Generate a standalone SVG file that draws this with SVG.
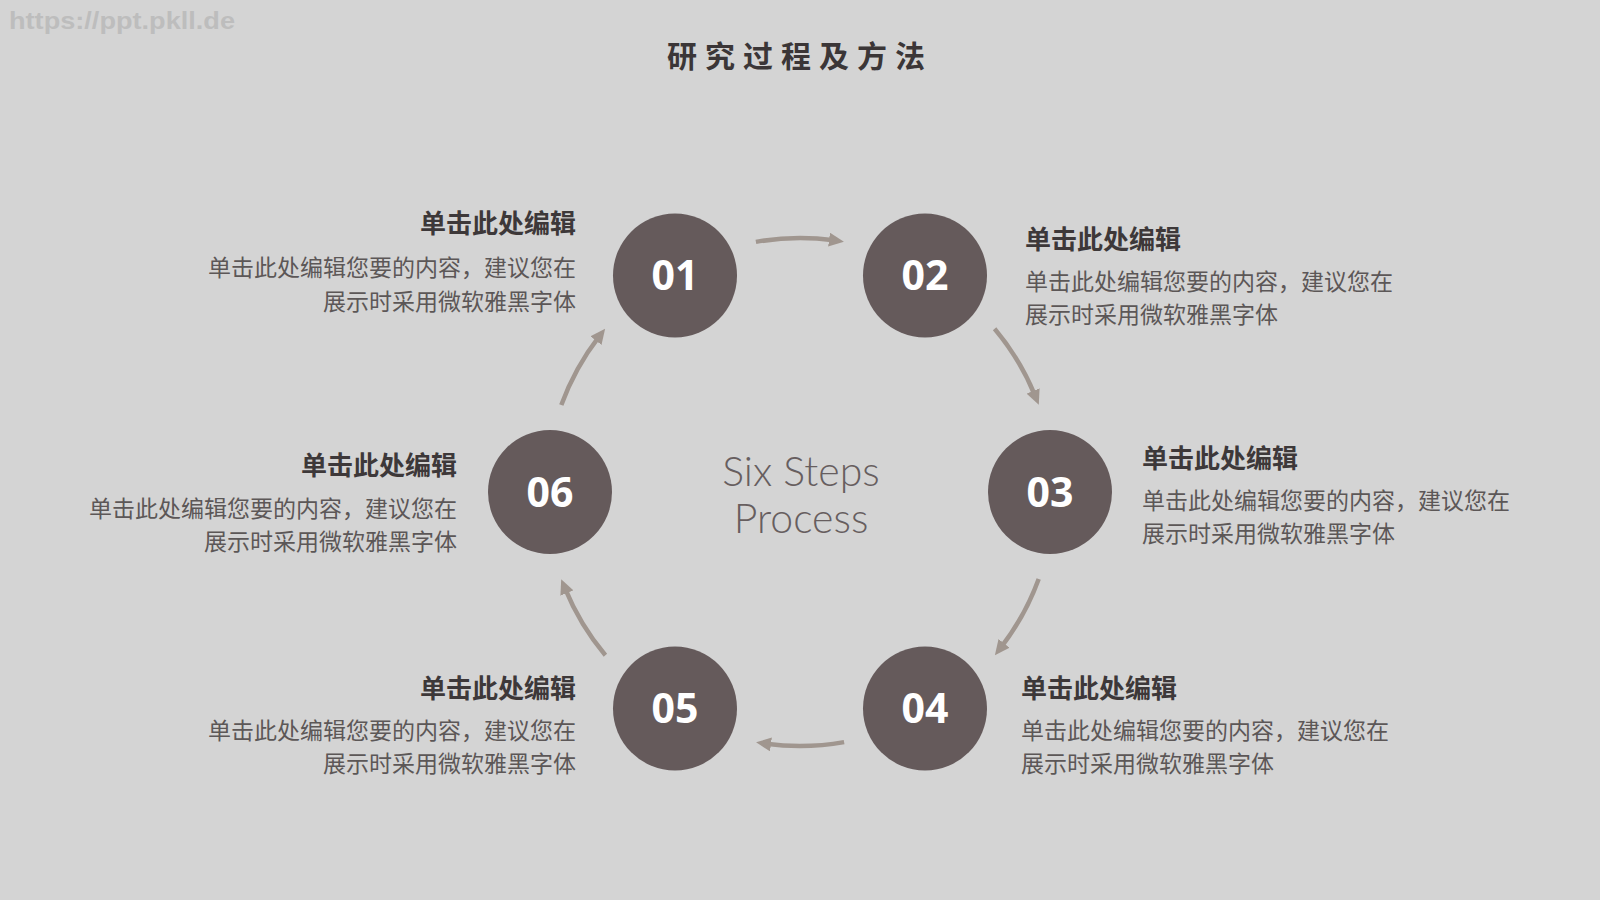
<svg xmlns="http://www.w3.org/2000/svg" width="1600" height="900" viewBox="0 0 1600 900">
<defs>
<style>
.bg{fill:#d4d4d4}
.wm{font-family:"Liberation Sans",Arial,sans-serif;font-size:24px;font-weight:bold;fill:#bdbdbd}
.title{font-family:"Noto Sans CJK SC",sans-serif;font-size:30px;font-weight:bold;fill:#3b3637;letter-spacing:8px}
.node circle{fill:#655a5b}
.num{font-family:"Open Sans","Roboto",sans-serif;font-size:41px;font-weight:bold;fill:#ffffff;text-anchor:middle}
.h{font-family:"Noto Sans CJK SC",sans-serif;font-size:26px;font-weight:bold;fill:#3d3839}
.b{font-family:"Noto Sans CJK SC",sans-serif;font-size:23px;fill:#5c5757}
.r{text-anchor:end}
.center{font-family:"Lato","Open Sans",sans-serif;font-weight:300;font-size:41px;fill:#675e5f;text-anchor:middle}
.conn path{fill:none;stroke:#a0968f;stroke-width:4.5;marker-end:url(#ah)}
</style>
<marker id="ah" markerUnits="userSpaceOnUse" markerWidth="15" markerHeight="14" viewBox="0 0 15 14" refX="5" refY="7" orient="auto">
<path d="M0,0 L15,7 L0,14 z" fill="#a0968f"/>
</marker>
</defs>
<rect class="bg" x="0" y="0" width="1600" height="900"/>
<text class="wm" x="9" y="29" textLength="226" lengthAdjust="spacingAndGlyphs">https://ppt.pkll.de</text>
<text class="title" x="800" y="67" text-anchor="middle">研究过程及方法</text>

<g id="connectors" class="conn">
<path d="M755.9,241.9 A254,254 0 0 1 834.0,240.3"/>
<path d="M994.6,328.7 A254,254 0 0 1 1035.0,395.6"/>
<path d="M1038.7,578.9 A254,254 0 0 1 1001.0,647.3"/>
<path d="M844.1,742.1 A254,254 0 0 1 766.0,743.7"/>
<path d="M605.4,655.3 A254,254 0 0 1 565.0,588.4"/>
<path d="M561.3,405.1 A254,254 0 0 1 599.0,336.7"/>
</g>

<g id="center-label">
<text class="center" x="801" y="486">Six Steps</text>
<text class="center" x="801" y="533">Process</text>
</g>

<g id="node01" class="node">
<circle cx="675" cy="275.5" r="62"/>
<text class="num" x="675" y="290">01</text>
<text class="h r" x="576" y="233">单击此处编辑</text>
<text class="b r" x="576" y="276">单击此处编辑您要的内容，建议您在</text>
<text class="b r" x="576" y="310">展示时采用微软雅黑字体</text>
</g>
<g id="node02" class="node">
<circle cx="925" cy="275.5" r="62"/>
<text class="num" x="925" y="290">02</text>
<text class="h" x="1025" y="249">单击此处编辑</text>
<text class="b" x="1025" y="290">单击此处编辑您要的内容，建议您在</text>
<text class="b" x="1025" y="323">展示时采用微软雅黑字体</text>
</g>
<g id="node03" class="node">
<circle cx="1050" cy="492" r="62"/>
<text class="num" x="1050" y="506.5">03</text>
<text class="h" x="1142" y="468">单击此处编辑</text>
<text class="b" x="1142" y="509">单击此处编辑您要的内容，建议您在</text>
<text class="b" x="1142" y="542">展示时采用微软雅黑字体</text>
</g>
<g id="node04" class="node">
<circle cx="925" cy="708.5" r="62"/>
<text class="num" x="925" y="723">04</text>
<text class="h" x="1021" y="698">单击此处编辑</text>
<text class="b" x="1021" y="739">单击此处编辑您要的内容，建议您在</text>
<text class="b" x="1021" y="772">展示时采用微软雅黑字体</text>
</g>
<g id="node05" class="node">
<circle cx="675" cy="708.5" r="62"/>
<text class="num" x="675" y="723">05</text>
<text class="h r" x="576" y="698">单击此处编辑</text>
<text class="b r" x="576" y="739">单击此处编辑您要的内容，建议您在</text>
<text class="b r" x="576" y="772">展示时采用微软雅黑字体</text>
</g>
<g id="node06" class="node">
<circle cx="550" cy="492" r="62"/>
<text class="num" x="550" y="506.5">06</text>
<text class="h r" x="457" y="475">单击此处编辑</text>
<text class="b r" x="457" y="517">单击此处编辑您要的内容，建议您在</text>
<text class="b r" x="457" y="550">展示时采用微软雅黑字体</text>
</g>
</svg>
